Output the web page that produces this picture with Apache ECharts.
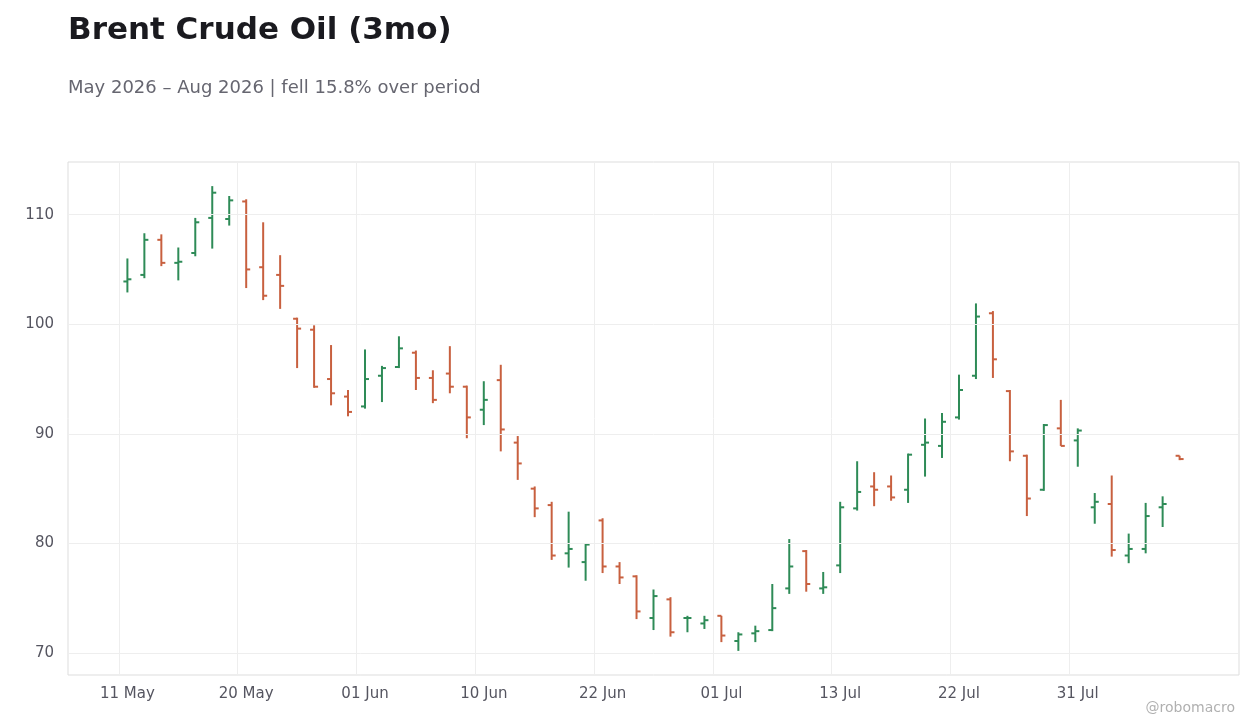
<!DOCTYPE html>
<html><head><meta charset="utf-8">
<script src="https://cdn.jsdelivr.net/npm/echarts@6/dist/echarts.min.js"></script>
<style>html,body{margin:0;padding:0;background:#fff}#c{width:1260px;height:728px}</style>
</head><body><div id="c"></div>
<script>
const dates = ["11 May","12 May","13 May","14 May","15 May","18 May","19 May","20 May","21 May","22 May","26 May","27 May","28 May","29 May",
"01 Jun","02 Jun","03 Jun","04 Jun","05 Jun","08 Jun","09 Jun","10 Jun","11 Jun","12 Jun","15 Jun","16 Jun","17 Jun","18 Jun","22 Jun","23 Jun","24 Jun","25 Jun","26 Jun","29 Jun","30 Jun",
"01 Jul","02 Jul","06 Jul","07 Jul","08 Jul","09 Jul","10 Jul","13 Jul","14 Jul","15 Jul","16 Jul","17 Jul","20 Jul","21 Jul","22 Jul","23 Jul","24 Jul","27 Jul","28 Jul","29 Jul","30 Jul","31 Jul",
"03 Aug","04 Aug","05 Aug","06 Aug","07 Aug","10 Aug"];
const open  = [103.9,104.5,107.7,105.6,106.5,109.7,109.6,111.2,105.2,104.5,100.5,99.5,95.0,93.4,92.5,95.3,96.1,97.4,95.1,95.5,94.3,92.2,94.9,89.2,85.0,83.5,79.1,78.3,82.1,77.9,77.0,73.2,74.9,73.2,72.7,73.4,71.1,71.8,72.1,75.9,79.3,75.9,78.0,83.2,85.2,85.2,84.9,89.0,88.9,91.5,95.3,101.0,93.9,88.0,84.9,90.5,89.4,83.3,83.6,78.9,79.5,83.3,88.0];
const high  = [106.0,108.3,108.2,107.0,109.7,112.6,111.7,111.4,109.3,106.3,100.6,99.9,98.1,94.0,97.7,96.2,98.9,97.6,95.8,98.0,94.4,94.8,96.3,89.8,85.2,83.8,82.9,80.0,82.3,78.3,77.1,75.8,75.1,73.4,73.4,73.4,71.9,72.5,76.3,80.4,79.4,77.4,83.8,87.5,86.5,86.2,88.2,91.4,91.9,95.4,101.9,101.2,94.0,88.1,90.9,93.1,90.5,84.6,86.2,80.9,83.7,84.3,88.0];
const low   = [102.9,104.2,105.3,104.0,106.2,106.9,109.0,103.3,102.2,101.4,96.0,94.2,92.6,91.6,92.3,92.9,96.0,94.0,92.8,93.7,89.6,90.8,88.4,85.8,82.4,78.5,77.8,76.6,77.3,76.3,73.1,72.1,71.5,71.9,72.2,71.0,70.2,71.0,72.0,75.4,75.6,75.4,77.3,83.0,83.4,83.9,83.7,86.1,87.8,91.3,95.0,95.1,87.5,82.5,84.8,88.9,87.0,81.8,78.8,78.2,79.1,81.5,87.6];
const close = [104.1,107.7,105.6,105.7,109.3,112.0,111.3,105.0,102.6,103.5,99.6,94.3,93.7,92.0,95.0,96.0,97.8,95.1,93.1,94.3,91.5,93.1,90.4,87.3,83.2,78.9,79.5,79.9,77.9,76.9,73.8,75.2,71.9,73.2,73.0,71.6,71.7,72.0,74.1,77.9,76.3,76.0,83.3,84.7,84.9,84.2,88.1,89.2,91.1,94.0,100.7,96.8,88.4,84.1,90.8,88.9,90.3,83.8,79.4,79.5,82.5,83.6,87.7];
const yTicks = [70,80,90,100,110];
const PAD = 3;
const UP = '#2e8b57', DOWN = '#c8603f';

const cats = [];
for (let i=0;i<PAD;i++) cats.push('p'+i);
dates.forEach(d=>cats.push(d));
for (let i=0;i<PAD;i++) cats.push('q'+i);
const data = dates.map((d,i)=>[i+PAD, open[i], high[i], low[i], close[i]]);
const showIdx = i => i>=PAD && i<PAD+dates.length && (i-PAD)%7===0;

const chart = echarts.init(document.getElementById('c'));
chart.setOption({
  animation:false,
  title:[
    {text:'Brent Crude Oil (3mo)', left:63, top:10, textStyle:{fontFamily:'DejaVu Sans', fontSize:31, fontWeight:'bold', color:'#1a1a1f'}},
    {text:'May 2026 – Aug 2026 | fell 15.8% over period', left:63, top:74, textStyle:{fontFamily:'DejaVu Sans', fontSize:18, fontWeight:'normal', color:'#666670'}},
    {text:'@robomacro', right:20, top:696, textStyle:{fontFamily:'DejaVu Sans', fontSize:14, fontWeight:'normal', color:'#b0b0b0'}}
  ],
  grid:{left:68, right:21, top:162, bottom:53, show:true, borderColor:'#dddddd', borderWidth:1},
  xAxis:{type:'category', data:cats, boundaryGap:true,
    axisLine:{show:false}, axisTick:{show:false},
    axisLabel:{interval:(i)=>showIdx(i), color:'#555560', fontFamily:'DejaVu Sans', fontSize:15, margin:12},
    splitLine:{show:true, interval:(i)=>showIdx(i), lineStyle:{color:'#eeeeee'}}},
  yAxis:{type:'value', min:68, max:114.8, interval:2,
    axisLine:{show:false}, axisTick:{show:false}, splitLine:{show:false},
    axisLabel:{color:'#555560', fontFamily:'DejaVu Sans', fontSize:15, margin:14,
      formatter:v=>(Math.abs(v%10)<1e-6 ? String(v) : '')}},
  series:[{
    type:'custom',
    data:data,
    encode:{x:0, y:[1,2,3,4]},
    renderItem:(params, api)=>{
      const x = api.value(0);
      const o = api.coord([x, api.value(1)]);
      const h = api.coord([x, api.value(2)]);
      const l = api.coord([x, api.value(3)]);
      const c = api.coord([x, api.value(4)]);
      const col = api.value(4) >= api.value(1) ? UP : DOWN;
      const st = {stroke:col, lineWidth:2};
      return {type:'group', children:[
        {type:'line', shape:{x1:h[0], y1:h[1], x2:l[0], y2:l[1]}, style:st},
        {type:'line', shape:{x1:o[0]-4, y1:o[1], x2:o[0], y2:o[1]}, style:st},
        {type:'line', shape:{x1:c[0], y1:c[1], x2:c[0]+4, y2:c[1]}, style:st}
      ]};
    },
    markLine:{silent:true, symbol:'none', label:{show:false}, lineStyle:{color:'#eeeeee', type:'solid', width:1},
      data:yTicks.map(v=>({yAxis:v}))},
    z:3
  }]
});
</script></body></html>
